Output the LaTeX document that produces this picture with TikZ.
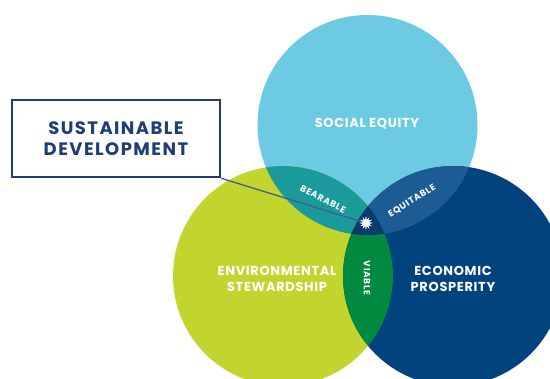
\documentclass[tikz,border=0pt]{standalone}
\usepackage{fontspec}
\setmainfont{Poppins}
\usetikzlibrary{shapes.geometric}
\definecolor{social}{HTML}{6CCBE2}
\definecolor{env}{HTML}{C2D52F}
\definecolor{econ}{HTML}{01437F}
\definecolor{bear}{HTML}{1A9A9B}
\definecolor{equi}{HTML}{1D5B94}
\definecolor{viab}{HTML}{00893F}
\definecolor{core}{HTML}{0B3A6C}
\definecolor{navy}{HTML}{1F3D78}
\definecolor{linkc}{HTML}{3F5F8F}
\begin{document}
\begin{tikzpicture}[x=1pt,y=-1pt,
  big/.style={text=white,align=center,inner sep=0pt,
    font=\bfseries\fontsize{13}{16}\selectfont\addfontfeature{LetterSpace=5}},
  small/.style={text=white,inner sep=0pt,
    font=\bfseries\fontsize{9}{10}\selectfont\addfontfeature{LetterSpace=8}},
  sdbox/.style={draw=navy,line width=2.6pt,fill=white,text=navy,align=center,
    minimum width=208pt,minimum height=77pt,inner sep=0pt,
    font=\bfseries\fontsize{18}{21}\selectfont\addfontfeature{LetterSpace=8}},
  burst/.style={star,star points=12,star point ratio=2.2,fill=white,
    minimum size=13pt,inner sep=0pt}]
\useasboundingbox (0,0) rectangle (550,379);
\fill[white] (0,0) rectangle (550,379);
\clip (0,0) rectangle (550,379);
\def\cS{(367.5,125) circle (110)}
\def\cE{(283,276) circle (110)}
\def\cP{(453,276) circle (110)}
\fill[social] \cS;
\fill[env] \cE;
\fill[econ] \cP;
\begin{scope}\clip \cS; \fill[bear] \cE; \fill[equi] \cP; \end{scope}
\begin{scope}\clip \cE; \fill[viab] \cP; \end{scope}
\begin{scope}\clip \cS; \clip \cE; \fill[core] \cP; \end{scope}
\node[big] (soc) at (367,124) {SOCIAL EQUITY};
\node[big] (env) at (277,279) {ENVIRONMENTAL\\STEWARDSHIP};
\node[big] (eco) at (453,279) {ECONOMIC\\PROSPERITY};
\node[small,rotate=-28] (bea) at (323,199) {BEARABLE};
\node[small,rotate=32] (equ) at (412,201) {EQUITABLE};
\node[small,rotate=-90] (via) at (367,278) {VIABLE};
\node[sdbox] (sd) at (116,138.5) {SUSTAINABLE\\DEVELOPMENT};
\node[burst] (st) at (366,223) {};
\draw[linkc,line width=1.3pt] (sd.south east) -- (st.center);
\node[burst] at (366,223) {};
\end{tikzpicture}
\end{document}
